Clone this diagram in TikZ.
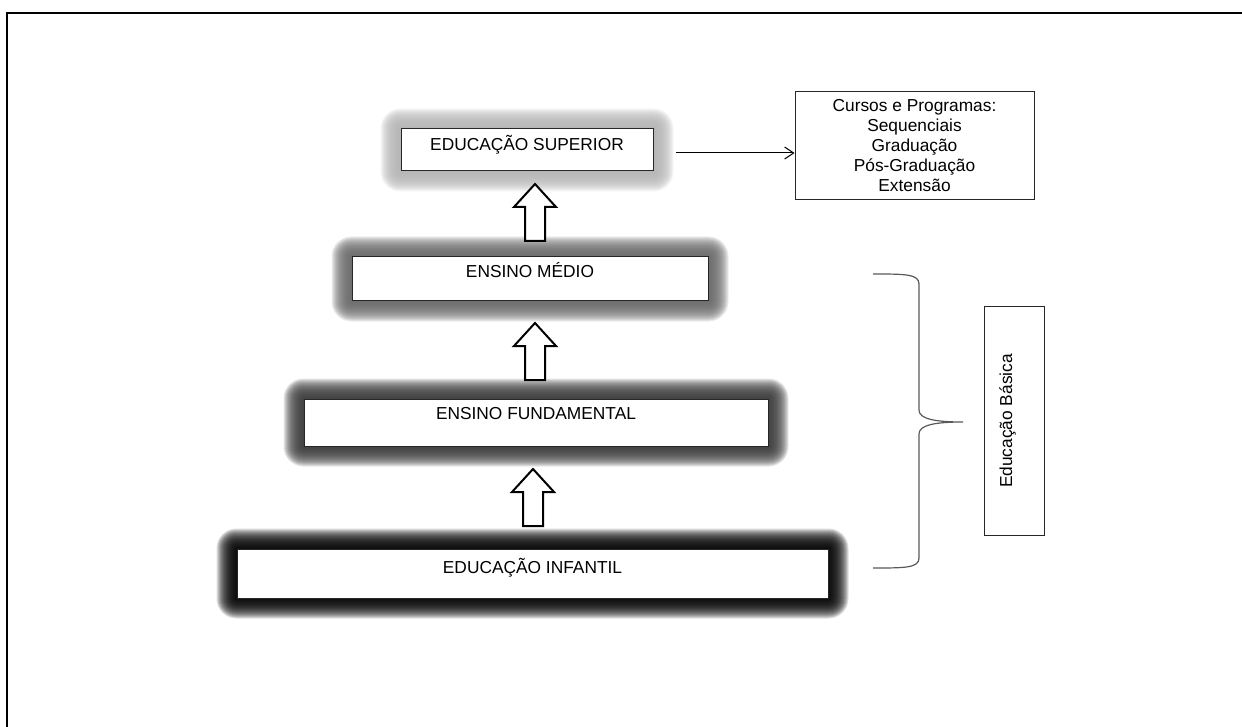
\documentclass[tikz,border=0pt]{standalone}
\usepackage{fontspec}
\setmainfont{Liberation Sans}
\usetikzlibrary{arrows.meta,backgrounds}

\tikzset{
  nivel/.style={draw=black!85, fill=white, line width=0.75pt, inner sep=0pt,
    font=\fontsize{13}{15}\selectfont},
  caixa/.style={draw=black!85, fill=white, line width=0.75pt, inner sep=0pt,
    align=center, font=\fontsize{13}{15}\selectfont},
  seta/.style={line width=0.75pt, -{Straight Barb[length=6.75pt,width=9pt]}},
  bloco/.style={draw, line width=1.5pt, fill=white, line join=miter},
  chave/.style={draw=black!65, line width=0.9pt},
}

% halo em volta de uma caixa
\newcommand{\brilho}[2]{%
  \begin{pgfonlayer}{background}
    \foreach \r [evaluate=\r as \rr using \r*0.75] in {1,...,20}
      \fill[#2, opacity=0.13, rounded corners=\rr pt]
        ([shift={(-\rr pt,-\rr pt)}]#1.south west) rectangle
        ([shift={(\rr pt,\rr pt)}]#1.north east);
  \end{pgfonlayer}}

% seta vazada para cima, ponta em #1
\newcommand{\setacima}[1]{%
  \draw[bloco] (#1) -- ++(21,23) -- ++(-11,0) -- ++(0,34) -- ++(-20,0)
    -- ++(0,-34) -- ++(-11,0) -- cycle;}

\begin{document}
\begin{tikzpicture}[x=0.75pt, y=-0.75pt]
  \useasboundingbox (0,0) rectangle (1242,727);
  \draw[line width=1.5pt] (7,727) -- (7,13) -- (1242,13);

  % niveis
  \node[nivel, minimum width=189pt, text height=16.5pt, text depth=15pt]
    (superior) at (527,150) {EDUCAÇÃO SUPERIOR};
  \node[nivel, minimum width=267pt, text height=15.75pt, text depth=17.25pt]
    (medio) at (530,279) {ENSINO MÉDIO};
  \node[nivel, minimum width=348pt, text height=15pt, text depth=20.25pt]
    (fundamental) at (536,422.5) {ENSINO FUNDAMENTAL};
  \node[nivel, minimum width=443.25pt, text height=18pt, text depth=18.75pt]
    (infantil) at (532.5,573.5) {EDUCAÇÃO INFANTIL};

  \brilho{superior}{black!30}
  \brilho{medio}{black!60}
  \brilho{fundamental}{black!78}
  \brilho{infantil}{black}

  \setacima{535,184}
  \setacima{535,323}
  \setacima{533,469}

  % cursos
  \node[caixa, minimum width=179.25pt, minimum height=81pt] (cursos) at (914.5,146)
    {Cursos e Programas:\\Sequenciais\\Graduação\\Pós-Graduação\\Extensão};
  \draw[seta] ([shift={(16.5pt,-2.25pt)}]superior.east) coordinate (s0)
    -- (s0 -| cursos.west);

  % educacao basica
  \node[nivel, rotate=90, minimum width=171pt, text height=21pt, text depth=24pt]
    (basica) at (1014,421) {Educação Básica};
  \draw[chave] (873,274) .. controls (905,274) and (919,274) .. (919,284)
    -- (919,410) .. controls (919,419) and (935,422) .. (963,422)
    .. controls (935,422) and (919,425) .. (919,434)
    -- (919,558) .. controls (919,568) and (905,568) .. (873,568);
\end{tikzpicture}
\end{document}
